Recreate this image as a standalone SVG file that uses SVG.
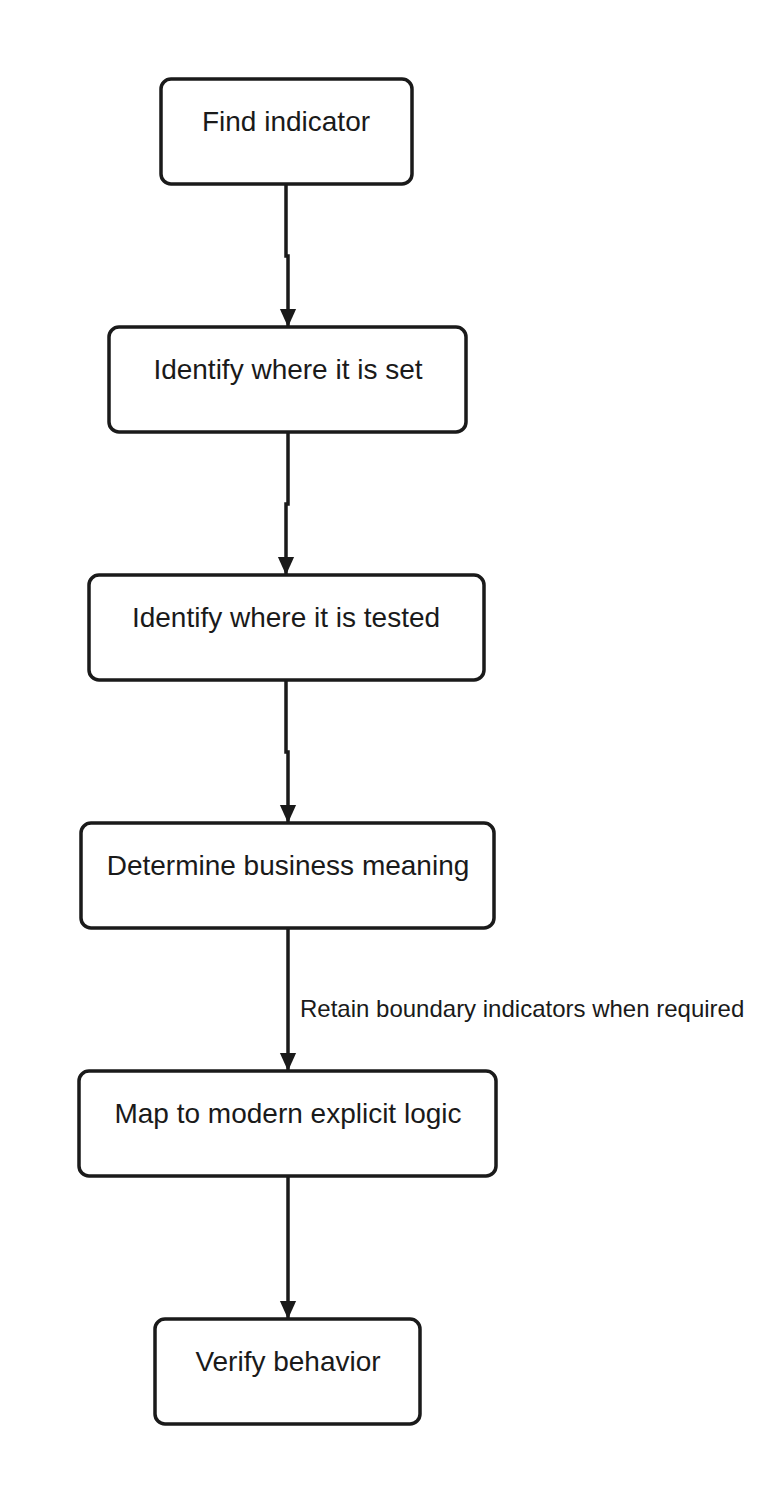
<svg xmlns="http://www.w3.org/2000/svg" width="768" height="1504" viewBox="0 0 768 1504">
<style>
.n rect{fill:#fff;stroke:#1a1a1a;stroke-width:3.5}
.n text{font-family:"Liberation Sans",Arial,sans-serif;font-size:28px;fill:#1a1a1a;text-anchor:middle;dominant-baseline:middle}
.c path{fill:none;stroke:#1a1a1a;stroke-width:3.5;marker-end:url(#b)}
.l{font-family:"Liberation Sans",Arial,sans-serif;font-size:24px;fill:#1a1a1a;dominant-baseline:middle}
</style>
<defs><marker id="b" viewBox="0 0 20 18" refX="20" refY="9" markerWidth="18" markerHeight="20" markerUnits="userSpaceOnUse" orient="auto"><path d="M0,0L20,9L0,18z" fill="#1a1a1a"/></marker></defs>
<rect width="768" height="1504" fill="#fff"/>
<g class="c" id="connectors">
<path d="M286,184V256H288V327"/>
<path d="M288,432V504H286V575"/>
<path d="M286,680V752H288V823"/>
<path d="M288,928V1071"/>
<path d="M288,1176V1319"/>
<text class="l" x="300" y="1011">Retain boundary indicators when required</text>
</g>
<g class="n" id="n1"><rect x="161" y="79" width="251" height="105" rx="10"/><text x="286" y="124">Find indicator</text></g>
<g class="n" id="n2"><rect x="109" y="327" width="357" height="105" rx="10"/><text x="288" y="372">Identify where it is set</text></g>
<g class="n" id="n3"><rect x="89" y="575" width="395" height="105" rx="10"/><text x="286" y="620">Identify where it is tested</text></g>
<g class="n" id="n4"><rect x="81" y="823" width="413" height="105" rx="10"/><text x="288" y="868">Determine business meaning</text></g>
<g class="n" id="n5"><rect x="79" y="1071" width="417" height="105" rx="10"/><text x="288" y="1116">Map to modern explicit logic</text></g>
<g class="n" id="n6"><rect x="155" y="1319" width="265" height="105" rx="10"/><text x="288" y="1364">Verify behavior</text></g>
</svg>
